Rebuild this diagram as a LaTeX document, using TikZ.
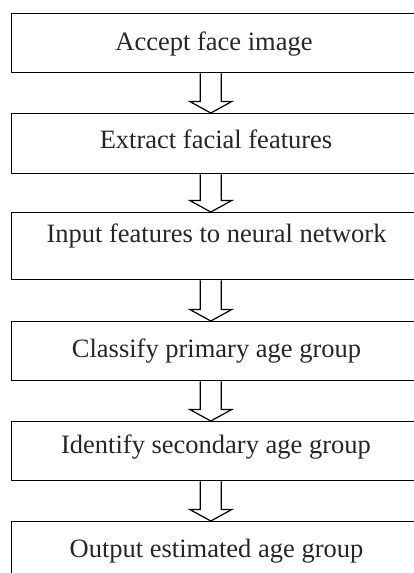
\documentclass[tikz,border=0pt]{standalone}
\usepackage{fontspec}
\setmainfont{Liberation Serif}
\usetikzlibrary{calc}
\begin{document}
\begin{tikzpicture}[x=1pt,y=-1pt,
  box/.style={draw=black,line width=1.3pt,rectangle,minimum width=410pt,inner sep=0pt,anchor=north west},
  lbl/.style={anchor=base,inner sep=0pt,font=\fontsize{26.5pt}{30pt}\selectfont,text=black!85},
  fatarrow/.style={draw=black,line width=1.2pt,fill=white,line join=miter}]
\useasboundingbox (0,0) rectangle (414,573);
\begin{scope}
\clip (0,0) rectangle (414,573);
\node[box,minimum height=59.5pt] (b1) at (11,12.5) {};
\node[box,minimum height=60pt] (b2) at (11,113) {};
\node[box,minimum height=67pt] (b3) at (11,212) {};
\node[box,minimum height=59pt] (b4) at (11,321) {};
\node[box,minimum height=59pt] (b5) at (11,421) {};
\node[box,minimum height=70pt] (b6) at (11,521) {};
\coordinate (ax) at (210.8,0);
\foreach \a/\b in {b1/b2,b2/b3,b3/b4,b4/b5,b5/b6}{
  \draw[fatarrow] ($(ax |- \a.south)+(-10.5,0)$) -- ($(ax |- \b.north)+(-10.5,-11.5)$)
    -- ($(ax |- \b.north)+(-21,-11.5)$) -- (ax |- \b.north)
    -- ($(ax |- \b.north)+(21,-11.5)$) -- ($(ax |- \b.north)+(10.5,-11.5)$)
    -- ($(ax |- \a.south)+(10.5,0)$);
}
\end{scope}
\node[lbl] (t1) at (214,50) {Accept face image};
\node[lbl] (t2) at (216,148.3) {Extract facial features};
\node[lbl] (t3) at (216.5,242) {Input features to neural network};
\node[lbl] (t4) at (216.5,357) {Classify primary age group};
\node[lbl] (t5) at (216,453) {Identify secondary age group};
\node[lbl] (t6) at (216.5,557) {Output estimated age group};
\end{tikzpicture}
\end{document}
